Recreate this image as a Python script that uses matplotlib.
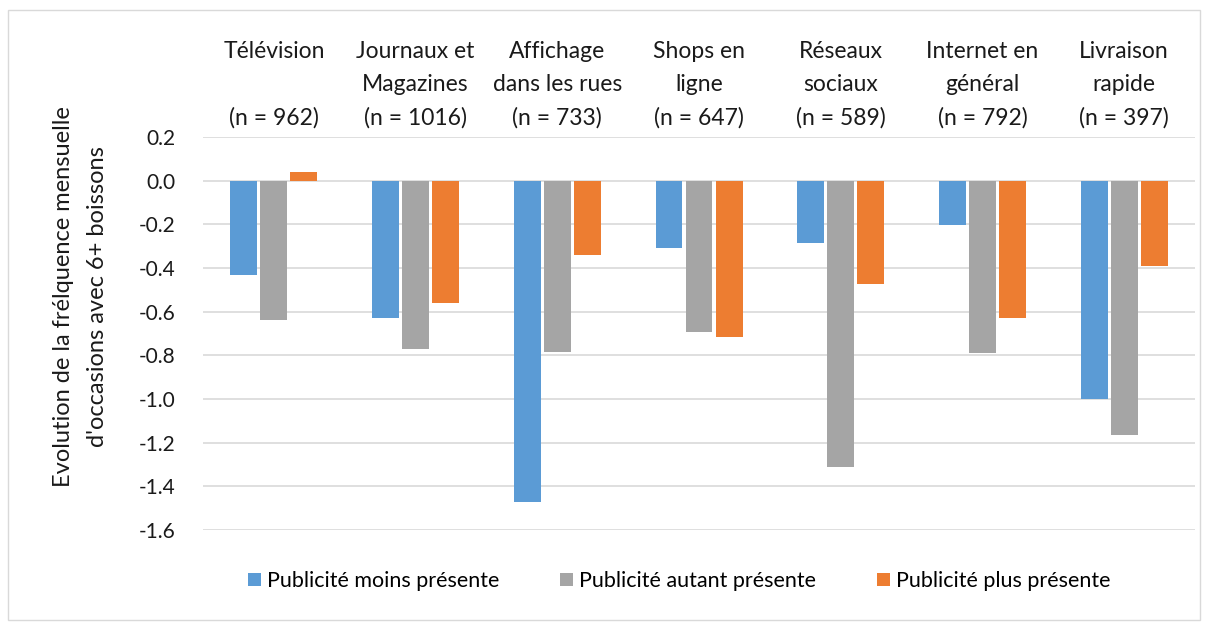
import numpy as np
import matplotlib.pyplot as plt
from matplotlib.patches import Rectangle

plt.rcParams['font.family'] = ['Lato', 'DejaVu Sans']

categories = [
    "Télévision\n\n(n = 962)",
    "Journaux et\nMagazines\n(n = 1016)",
    "Affichage\ndans les rues\n(n = 733)",
    "Shops en\nligne\n(n = 647)",
    "Réseaux\nsociaux\n(n = 589)",
    "Internet en\ngénéral\n(n = 792)",
    "Livraison\nrapide\n(n = 397)",
]
moins = [-0.43, -0.63, -1.47, -0.31, -0.285, -0.205, -1.00]
autant = [-0.64, -0.77, -0.785, -0.695, -1.31, -0.79, -1.165]
plus = [0.04, -0.56, -0.34, -0.715, -0.475, -0.63, -0.39]
series_names = ["Publicité moins présente", "Publicité autant présente", "Publicité plus présente"]
colors = ["#5B9BD5", "#A5A5A5", "#ED7D31"]
yticks = [-1.6, -1.4, -1.2, -1.0, -0.8, -0.6, -0.4, -0.2, 0.0, 0.2]

fig = plt.figure(figsize=(12.05, 6.25), dpi=100)
fig.patches.append(Rectangle((8 / 1205, 5 / 625), 1192 / 1205, 610 / 625,
                             transform=fig.transFigure, fill=False,
                             edgecolor="#d9d9d9", linewidth=1))
ax = fig.add_axes([0.1685, 0.152, 0.8232, 0.6288])

x = np.arange(len(categories))
w = 0.19
step = 0.212
for i, (vals, name, c) in enumerate(zip([moins, autant, plus], series_names, colors)):
    ax.bar(x + (i - 1) * step, vals, width=w, color=c, label=name, zorder=3)

ax.set_xlim(-0.5, len(categories) - 0.5)
ax.set_ylim(-1.6, 0.2)
ax.set_yticks(yticks)
ax.set_yticklabels([f"{v:.1f}" for v in yticks])
ax.yaxis.grid(True, color="#d9d9d9", linewidth=1.2, zorder=0)
for s in ax.spines.values():
    s.set_visible(False)

ax.xaxis.tick_top()
ax.set_xticks(x)
ax.set_xticklabels(categories, fontsize=16.5, color="#1a1a1a", linespacing=1.7)
ax.tick_params(axis="x", length=0, pad=6)
ax.tick_params(axis="y", length=0, labelsize=15, pad=20, labelcolor="#1a1a1a")

ax.set_ylabel("Evolution de la frélquence mensuelle\nd'occasions avec 6+ boissons",
              fontsize=17, color="#1a1a1a", linespacing=1.75)
ax.yaxis.set_label_coords(-0.096, 0.593)

ax.legend(loc="upper center", bbox_to_anchor=(0.48, -0.055), ncol=3, frameon=False,
          fontsize=15.5, handlelength=0.6, handleheight=0.6, handletextpad=0.3,
          columnspacing=2.8)

fig.savefig("out.png", dpi=100)
